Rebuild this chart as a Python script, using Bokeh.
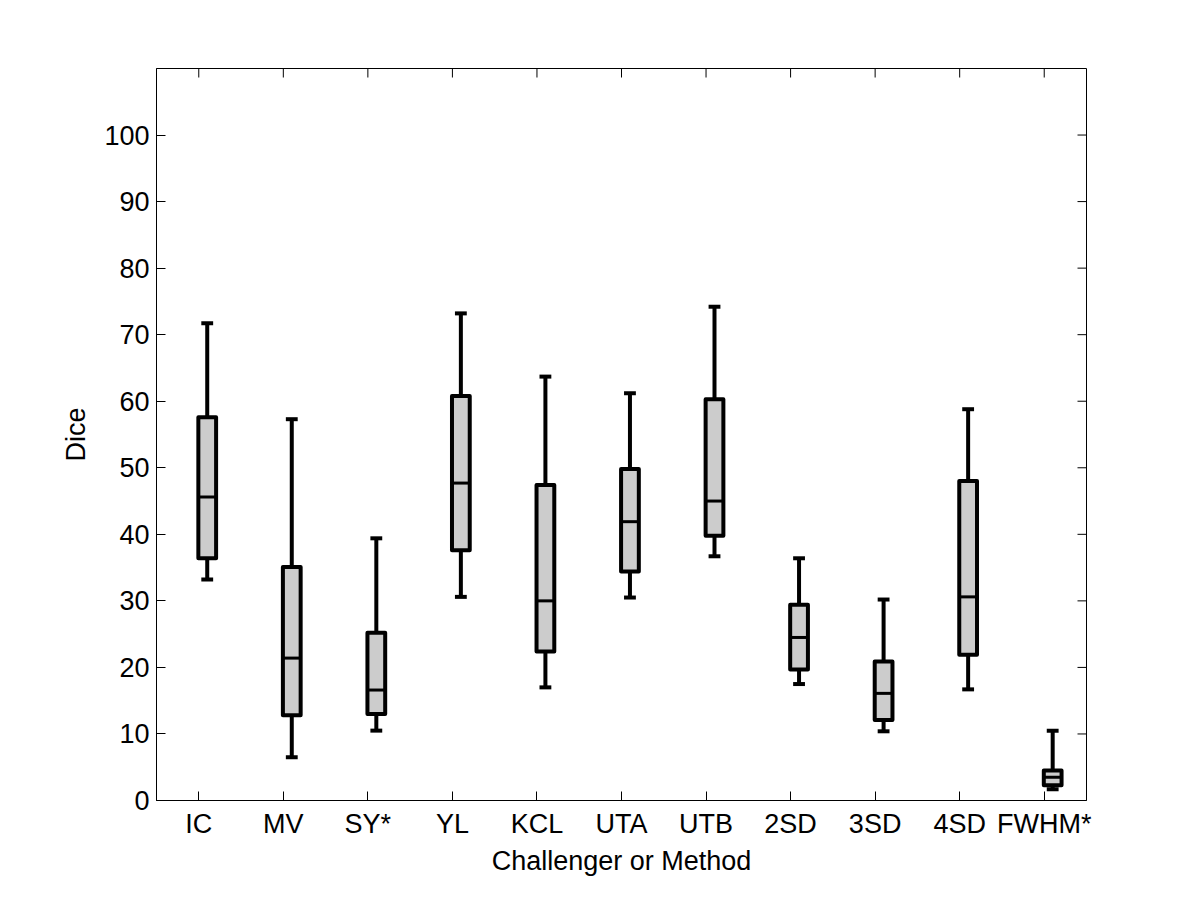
import math
from bokeh.plotting import figure
from bokeh.models import ColumnDataSource, Range1d, FixedTicker
from bokeh.embed import file_html
from bokeh.resources import INLINE

categories = ["IC", "MV", "SY*", "YL", "KCL", "UTA", "UTB", "2SD", "3SD", "4SD", "FWHM*"]
lower_whisker = [33.2, 6.5, 10.5, 30.6, 17.0, 30.5, 36.7, 17.5, 10.4, 16.7, 1.7]
q1 = [36.4, 12.8, 13.0, 37.6, 22.4, 34.4, 39.8, 19.7, 12.1, 21.9, 2.3]
median = [45.6, 21.4, 16.6, 47.7, 30.0, 41.9, 45.0, 24.5, 16.1, 30.6, 3.5]
q3 = [57.6, 35.1, 25.2, 60.8, 47.4, 49.8, 60.3, 29.4, 20.9, 48.0, 4.5]
upper_whisker = [71.7, 57.3, 39.4, 73.2, 63.7, 61.2, 74.2, 36.4, 30.2, 58.8, 10.5]
y_ticks = [0, 10, 20, 30, 40, 50, 60, 70, 80, 90, 100]

FONT = "Liberation Sans"
FS = "27px"
offset = 0.1
box_w = 0.21
cap_w = 0.14
X0, X1, Y0, Y1 = 0.5, 11.5, 0, 110

pos = [i + 1 for i in range(len(categories))]
xc = [p_ + offset for p_ in pos]

src = ColumnDataSource(dict(
    x=xc,
    x_l=[x - box_w / 2 for x in xc],
    x_r=[x + box_w / 2 for x in xc],
    c_l=[x - cap_w / 2 for x in xc],
    c_r=[x + cap_w / 2 for x in xc],
    lo=lower_whisker, q1=q1, med=median, q3=q3, hi=upper_whisker,
))

p = figure(width=1192, height=892, output_backend="svg", toolbar_location=None,
           x_range=Range1d(X0, X1), y_range=Range1d(Y0, Y1),
           min_border_left=156, min_border_right=106, min_border_top=68, min_border_bottom=92)
p.background_fill_color = "white"
p.border_fill_color = "white"
p.outline_line_color = "black"
p.outline_line_width = 1
p.xgrid.visible = False
p.ygrid.visible = False

p.xaxis.ticker = FixedTicker(ticks=pos)
p.xaxis.major_label_overrides = {pos[i]: categories[i] for i in range(len(categories))}
p.yaxis.ticker = FixedTicker(ticks=y_ticks)
for ax in (p.xaxis[0], p.yaxis[0]):
    ax.major_tick_in = 9
    ax.major_tick_out = 0
    ax.minor_tick_in = 0
    ax.minor_tick_out = 0
    ax.axis_line_color = "black"
    ax.major_tick_line_color = "black"
    ax.major_label_text_font = FONT
    ax.major_label_text_font_size = FS
    ax.major_label_text_color = "black"
    ax.axis_label_text_font = FONT
    ax.axis_label_text_font_size = FS
    ax.axis_label_text_font_style = "normal"
    ax.axis_label_text_color = "black"

p.xaxis.axis_label = "Challenger or Method"
p.yaxis.axis_label = "Dice"
p.xaxis.major_label_standoff = 8
p.xaxis.axis_label_standoff = 4
p.yaxis.major_label_standoff = 7
p.yaxis.axis_label_standoff = 10

# mirrored inward ticks on top and right edges
p.ray(x=pos, y=[Y1] * len(pos), length=9, length_units="screen", angle=-math.pi / 2,
      line_color="black", line_width=1)
p.ray(x=[X1] * len(y_ticks), y=y_ticks, length=9, length_units="screen", angle=math.pi,
      line_color="black", line_width=1)

# whiskers
p.segment(x0="x", y0="q3", x1="x", y1="hi", source=src, line_color="black", line_width=4, line_cap="butt")
p.segment(x0="x", y0="lo", x1="x", y1="q1", source=src, line_color="black", line_width=4, line_cap="butt")
# boxes
p.quad(left="x_l", right="x_r", bottom="q1", top="q3", source=src,
       fill_color="#cccccc", line_color="black", line_width=4, line_join="round")
# medians
p.segment(x0="x_l", y0="med", x1="x_r", y1="med", source=src, line_color="black", line_width=3, line_cap="butt")
# caps
p.segment(x0="c_l", y0="hi", x1="c_r", y1="hi", source=src, line_color="black", line_width=4, line_cap="butt")
p.segment(x0="c_l", y0="lo", x1="c_r", y1="lo", source=src, line_color="black", line_width=4, line_cap="butt")

open("out.html", "w").write(file_html(p, INLINE))
